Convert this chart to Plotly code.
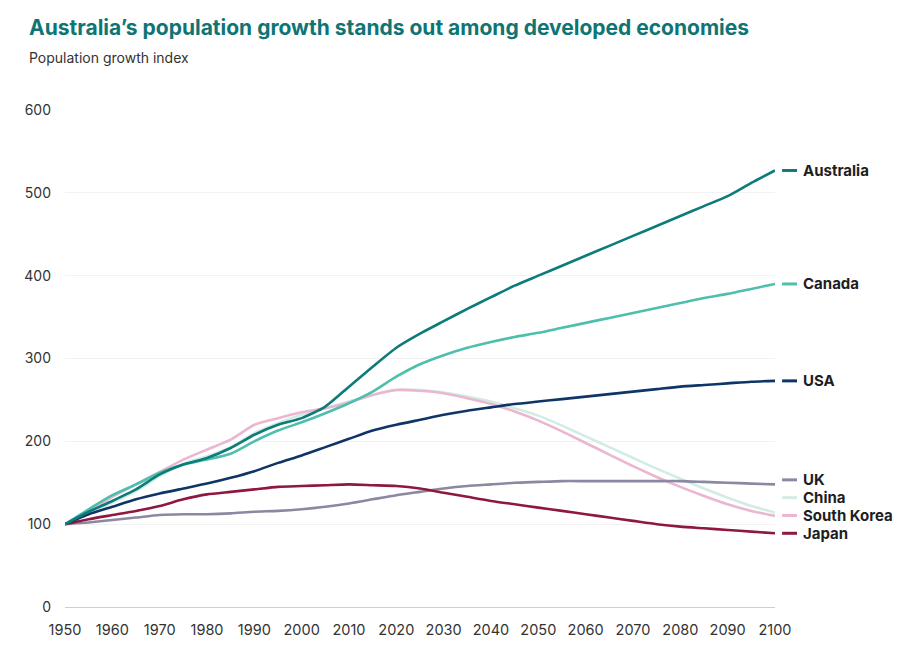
import plotly.graph_objects as go

years = list(range(1950, 2101, 5))

australia = [100, 115, 128, 142, 160, 172, 180, 192, 208, 220, 228, 242, 266, 290, 313, 330,
             345, 360, 374, 388, 400, 412, 424, 436, 448, 460, 472, 484, 496, 512, 527]
canada = [100, 118, 135, 148, 162, 172, 178, 185, 200, 213, 223, 234, 246, 260, 278, 293,
          304, 313, 320, 326, 331, 337, 343, 349, 355, 361, 367, 373, 378, 384, 390]
usa = [100, 112, 121, 130, 137, 143, 149, 156, 164, 174, 183, 193, 203, 213, 220, 226,
       232, 237, 241, 245, 248, 251, 254, 257, 260, 263, 266, 268, 270, 272, 273]
uk = [100, 102, 105, 108, 111, 112, 112, 113, 115, 116, 118, 121, 125, 130, 135, 139,
      143, 146, 148, 150, 151, 152, 152, 152, 152, 152, 152, 151, 150, 149, 148]
china = [100, 113, 126, 140, 158, 173, 182, 193, 210, 222, 232, 240, 248, 256, 262, 262,
         259, 254, 248, 240, 231, 219, 206, 193, 180, 167, 155, 143, 132, 122, 114]
south_korea = [100, 115, 133, 148, 163, 178, 190, 202, 220, 228, 235, 240, 247, 256, 262, 261,
               258, 252, 245, 236, 225, 212, 198, 184, 170, 157, 145, 134, 124, 116, 110]
japan = [100, 106, 111, 116, 122, 130, 136, 139, 142, 145, 146, 147, 148, 147, 146, 143,
         138, 133, 128, 124, 120, 116, 112, 108, 104, 100, 97, 95, 93, 91, 89]

names = ["China", "South Korea", "UK", "Japan", "USA", "Canada", "Australia"]
series = [china, south_korea, uk, japan, usa, canada, australia]
colors = {
    "Australia": "#0e7b7b",
    "Canada": "#4dbfac",
    "USA": "#0f3566",
    "UK": "#8b88a2",
    "China": "#d3ece3",
    "South Korea": "#eab6d0",
    "Japan": "#8e1840",
}

title = "Australia\u2019s population growth stands out among developed economies"
subtitle = "Population growth index"
y_ticks = [0, 100, 200, 300, 400, 500, 600]
x_ticks = list(range(1950, 2101, 10))

FONT = "Inter, Lato, sans-serif"

fig = go.Figure()
for name, vals in zip(names, series):
    fig.add_trace(go.Scatter(
        x=years, y=vals, mode="lines", name=name,
        line=dict(color=colors[name], width=2.6, shape="spline", smoothing=0.6),
        hoverinfo="x+y+name",
    ))

# end labels with simple de-overlap (min spacing in data units)
ends = sorted([(vals[-1], name) for name, vals in zip(names, series)])
min_gap = 21.5
placed = []
prev = None
for val, name in ends:
    pos = val if prev is None else max(val, prev + min_gap)
    placed.append((pos, name))
    prev = pos

for pos, name in placed:
    fig.add_shape(type="line", xref="paper", yref="y",
                  x0=1.01, x1=1.031, y0=pos, y1=pos,
                  line=dict(color=colors[name], width=3))
    fig.add_annotation(xref="paper", yref="y", x=1.036, y=pos, text="<b>%s</b>" % name,
                       showarrow=False, xanchor="left", yanchor="middle",
                       font=dict(size=15, color="#1e1e1e", family=FONT))

fig.add_annotation(xref="paper", yref="paper", x=-0.053, y=1.167, xanchor="left", yanchor="middle",
                   text="<b>%s</b>" % title, showarrow=False,
                   font=dict(size=21, color="#0e7474", family=FONT))
fig.add_annotation(xref="paper", yref="paper", x=-0.053, y=1.105, xanchor="left", yanchor="middle",
                   text=subtitle, showarrow=False,
                   font=dict(size=14, color="#333333", family=FONT))

fig.update_layout(
    width=914, height=642,
    margin=dict(l=57, r=147, t=102, b=43),
    paper_bgcolor="white", plot_bgcolor="white",
    showlegend=False,
    font=dict(family=FONT, color="#333333", size=14),
)
fig.update_xaxes(range=[1950, 2100], tickvals=x_ticks, showgrid=False, zeroline=False,
                 showline=False, ticks="", automargin=False, ticklabelstandoff=12,
                 tickfont=dict(size=14.5, color="#333333"))
fig.update_yaxes(range=[0, 600], tickvals=y_ticks, showgrid=True, gridcolor="#f2f2f2",
                 gridwidth=1, zeroline=True, zerolinecolor="#d0d0d0", zerolinewidth=1,
                 showline=False, ticks="", ticklabelstandoff=13, automargin=False,
                 tickfont=dict(size=14, color="#333333"))

fig.write_html("out.html")
